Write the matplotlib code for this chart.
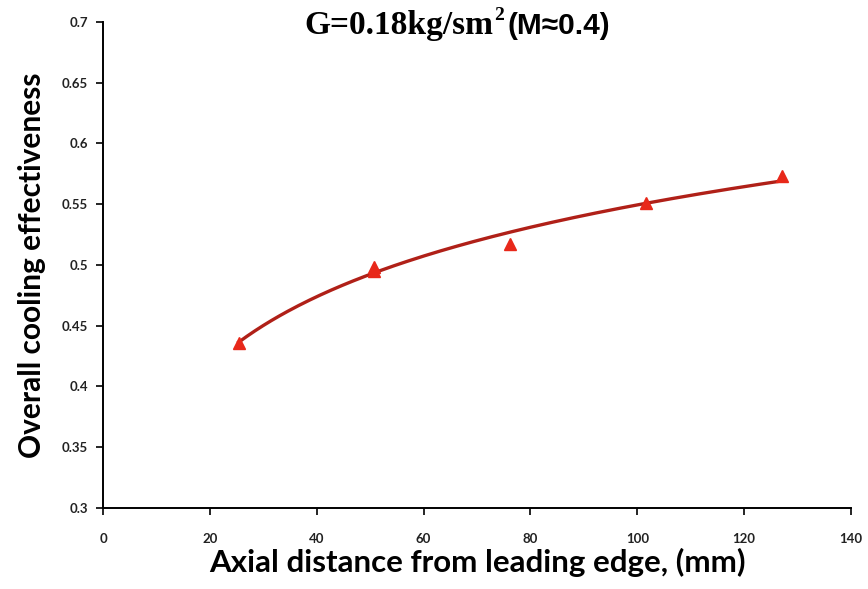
import matplotlib
matplotlib.use("Agg")

import matplotlib.pyplot as plt
import numpy as np

# measurement stations along the surface, in mm (1-inch pitch)
axial_mm = [25.4, 50.8, 50.8, 76.2, 101.6, 127.0]
effectiveness = [0.436, 0.495, 0.498, 0.517, 0.551, 0.573]

x_ticks = [0, 20, 40, 60, 80, 100, 120, 140]
y_ticks = [0.3, 0.35, 0.4, 0.45, 0.5, 0.55, 0.6, 0.65, 0.7]
y_tick_labels = ["0.3", "0.35", "0.4", "0.45", "0.5", "0.55", "0.6", "0.65", "0.7"]

# logarithmic trendline through the measured points
coef = np.polyfit(np.log(axial_mm), effectiveness, 1)
x_fit = np.linspace(min(axial_mm), max(axial_mm), 200)
y_fit = coef[0] * np.log(x_fit) + coef[1]

fig = plt.figure(figsize=(8.68, 5.89), dpi=100)
ax = fig.add_axes([0.1187, 0.1381, 0.8617, 0.8245])

ax.plot(x_fit, y_fit, color="#b02018", lw=2.4, zorder=2)
ax.plot(axial_mm, effectiveness, ls="none", marker="^", ms=9,
        color="#e8281a", mec="#e8281a", zorder=3)

ax.set_xlim(0, 140)
ax.set_ylim(0.3, 0.7)
ax.set_xticks(x_ticks)
ax.set_yticks(y_ticks)
ax.set_yticklabels(y_tick_labels)

for side in ("top", "right"):
    ax.spines[side].set_visible(False)
for side in ("left", "bottom"):
    ax.spines[side].set_linewidth(1.4)
    ax.spines[side].set_color("black")

ax.tick_params(axis="both", direction="out", length=5, width=1.2, color="black")
ax.tick_params(axis="x", pad=13)
ax.tick_params(axis="y", pad=6)
for lbl in ax.get_xticklabels() + ax.get_yticklabels():
    lbl.set_family("Lato")
    lbl.set_fontweight("bold")
    lbl.set_fontsize(9.5)
    lbl.set_color("#222222")

ax.set_xlabel("Axial distance from leading edge, (mm)", family="Lato",
              fontweight="bold", fontsize=22.5, labelpad=2)
ax.set_ylabel("Overall cooling effectiveness", family="Lato",
              fontweight="bold", fontsize=21.5, labelpad=11)

# title: serif part, superscript 2, then the sans-serif Mach note
base_y = 0.943
t1 = fig.text(0.351, base_y, "G=0.18kg/sm", family="Liberation Serif",
              fontweight="bold", fontsize=24, va="baseline", ha="left")
fig.canvas.draw()
fw = fig.bbox.width
x_end = t1.get_window_extent().x1 / fw
t2 = fig.text(x_end + 0.001, base_y + 0.023, "2", family="Liberation Serif",
              fontweight="bold", fontsize=14, va="baseline", ha="left")
fig.canvas.draw()
x_end = t2.get_window_extent().x1 / fw
fig.text(x_end + 0.004, base_y, "(M\u22480.4)", family="Liberation Sans",
         fontweight="bold", fontsize=21.5, va="baseline", ha="left")

plt.savefig("out.png", dpi=100)
plt.close()
